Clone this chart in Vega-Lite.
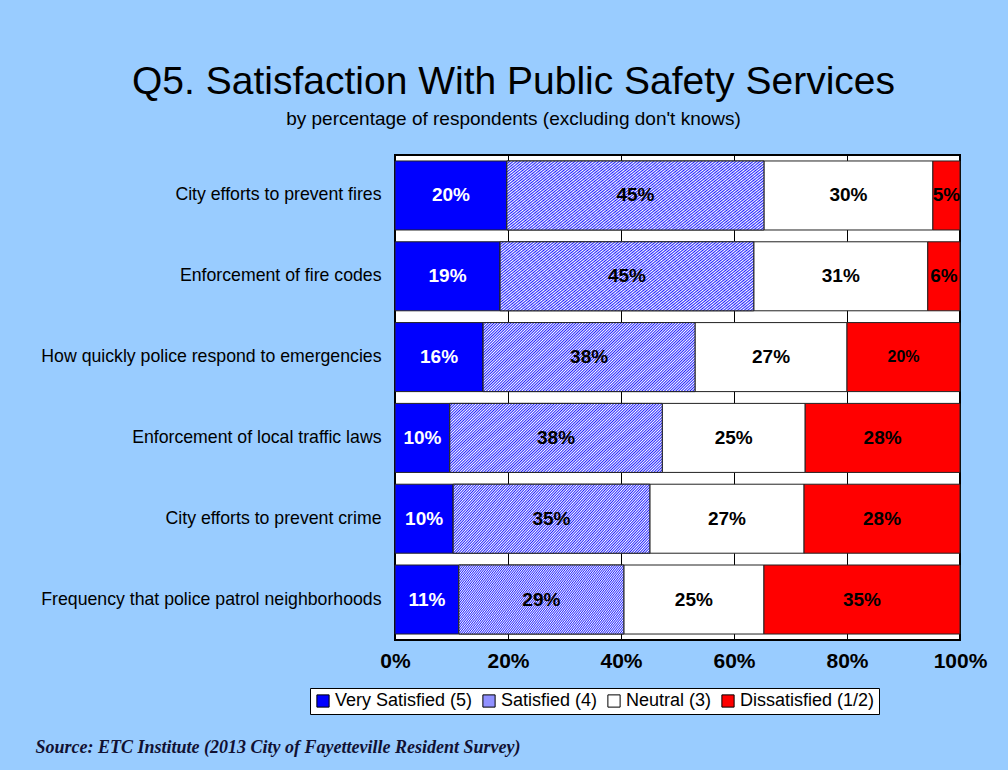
{
  "$schema": "https://vega.github.io/schema/vega-lite/v6.json",
  "autosize": "none",
  "width": 565,
  "height": 485,
  "padding": {"left": 395, "top": 155, "right": 48, "bottom": 130},
  "background": "#99CCFF",
  "title": {
    "text": "Q5. Satisfaction With Public Safety Services",
    "subtitle": "by percentage of respondents (excluding don't knows)",
    "anchor": "middle",
    "frame": "group",
    "dx": -164,
    "offset": 26,
    "font": "Liberation Sans",
    "fontSize": 39,
    "fontWeight": "normal",
    "color": "black",
    "subtitleFont": "Liberation Sans",
    "subtitleFontSize": 19,
    "subtitleColor": "black",
    "subtitlePadding": 8
  },
  "data": {
    "values": [
      {"q": "City efforts to prevent fires", "cat": "Very Satisfied (5)", "v": 19.8, "lbl": "20%"},
      {"q": "City efforts to prevent fires", "cat": "Satisfied (4)", "v": 45.5, "lbl": "45%"},
      {"q": "City efforts to prevent fires", "cat": "Neutral (3)", "v": 29.9, "lbl": "30%"},
      {"q": "City efforts to prevent fires", "cat": "Dissatisfied (1/2)", "v": 4.8, "lbl": "5%"},
      {"q": "Enforcement of fire codes", "cat": "Very Satisfied (5)", "v": 18.6, "lbl": "19%"},
      {"q": "Enforcement of fire codes", "cat": "Satisfied (4)", "v": 44.9, "lbl": "45%"},
      {"q": "Enforcement of fire codes", "cat": "Neutral (3)", "v": 30.8, "lbl": "31%"},
      {"q": "Enforcement of fire codes", "cat": "Dissatisfied (1/2)", "v": 5.7, "lbl": "6%"},
      {"q": "How quickly police respond to emergencies", "cat": "Very Satisfied (5)", "v": 15.6, "lbl": "16%"},
      {"q": "How quickly police respond to emergencies", "cat": "Satisfied (4)", "v": 37.5, "lbl": "38%"},
      {"q": "How quickly police respond to emergencies", "cat": "Neutral (3)", "v": 26.9, "lbl": "27%"},
      {"q": "How quickly police respond to emergencies", "cat": "Dissatisfied (1/2)", "v": 20.0, "lbl": "20%"},
      {"q": "Enforcement of local traffic laws", "cat": "Very Satisfied (5)", "v": 9.7, "lbl": "10%"},
      {"q": "Enforcement of local traffic laws", "cat": "Satisfied (4)", "v": 37.6, "lbl": "38%"},
      {"q": "Enforcement of local traffic laws", "cat": "Neutral (3)", "v": 25.3, "lbl": "25%"},
      {"q": "Enforcement of local traffic laws", "cat": "Dissatisfied (1/2)", "v": 27.4, "lbl": "28%"},
      {"q": "City efforts to prevent crime", "cat": "Very Satisfied (5)", "v": 10.3, "lbl": "10%"},
      {"q": "City efforts to prevent crime", "cat": "Satisfied (4)", "v": 34.8, "lbl": "35%"},
      {"q": "City efforts to prevent crime", "cat": "Neutral (3)", "v": 27.3, "lbl": "27%"},
      {"q": "City efforts to prevent crime", "cat": "Dissatisfied (1/2)", "v": 27.6, "lbl": "28%"},
      {"q": "Frequency that police patrol neighborhoods", "cat": "Very Satisfied (5)", "v": 11.3, "lbl": "11%"},
      {"q": "Frequency that police patrol neighborhoods", "cat": "Satisfied (4)", "v": 29.2, "lbl": "29%"},
      {"q": "Frequency that police patrol neighborhoods", "cat": "Neutral (3)", "v": 24.8, "lbl": "25%"},
      {"q": "Frequency that police patrol neighborhoods", "cat": "Dissatisfied (1/2)", "v": 34.7, "lbl": "35%"}
    ]
  },
  "transform": [
    {"calculate": "indexof(['Very Satisfied (5)','Satisfied (4)','Neutral (3)','Dissatisfied (1/2)'], datum.cat)", "as": "ord"},
    {"stack": "v", "groupby": ["q"], "sort": [{"field": "ord", "order": "ascending"}], "as": ["x0", "x1"]},
    {"calculate": "(datum.x0 + datum.x1) / 2", "as": "mid"}
  ],
  "encoding": {
    "y": {
      "field": "q",
      "type": "nominal",
      "sort": ["City efforts to prevent fires", "Enforcement of fire codes", "How quickly police respond to emergencies", "Enforcement of local traffic laws", "City efforts to prevent crime", "Frequency that police patrol neighborhoods"],
      "scale": {"paddingInner": 0.146, "paddingOuter": 0.074},
      "axis": {"title": null, "domain": false, "ticks": false, "labelFont": "Liberation Sans", "labelFontSize": 17.7, "labelColor": "black", "labelPadding": 14, "labelLimit": 400}
    }
  },
  "layer": [
    {
      "mark": {"type": "bar", "stroke": "#222222", "strokeWidth": 1},
      "encoding": {
        "x": {
          "field": "x0",
          "type": "quantitative",
          "stack": null,
          "title": "Source:  ETC Institute (2013 City of Fayetteville Resident Survey)",
          "scale": {"domain": [0, 100], "nice": false},
          "axis": {"values": [0, 20, 40, 60, 80, 100], "labelExpr": "datum.value + '%'", "labelFlush": false}
        },
        "x2": {"field": "x1"},
        "color": {
          "field": "cat",
          "type": "nominal",
          "scale": {
            "domain": ["Very Satisfied (5)", "Satisfied (4)", "Neutral (3)", "Dissatisfied (1/2)"],
            "range": ["#0000ff", "#9191ff", "#ffffff", "#ff0000"]
          },
          "legend": {
            "orient": "none",
            "legendX": -85,
            "legendY": 533,
            "direction": "horizontal",
            "columns": 4,
            "title": null,
            "fillColor": "white",
            "strokeColor": "black",
            "padding": 4,
            "symbolType": "square",
            "symbolSize": 150,
            "symbolStrokeColor": "black",
            "symbolStrokeWidth": 1,
            "symbolOpacity": 1,
            "labelFont": "Liberation Sans",
            "labelFontSize": 18,
            "labelColor": "black",
            "labelOffset": 3,
            "columnPadding": 7,
            "labelLimit": 300
          }
        }
      }
    },
    {
      "transform": [{"filter": "datum.cat === 'Satisfied (4)'"}],
      "mark": {
        "type": "bar",
        "stroke": "#222222",
        "strokeWidth": 1,
        "fill": {
          "gradient": "linear",
          "x1": 0, "y1": 0, "x2": 1.2, "y2": 0.4,
          "stops": [
            {"offset": 0, "color": "#22f"}, {"offset": 0.005, "color": "#fff"},
            {"offset": 0.01, "color": "#22f"}, {"offset": 0.015, "color": "#fff"},
            {"offset": 0.02, "color": "#22f"}, {"offset": 0.025, "color": "#fff"},
            {"offset": 0.03, "color": "#22f"}, {"offset": 0.035, "color": "#fff"},
            {"offset": 0.04, "color": "#22f"}, {"offset": 0.045, "color": "#fff"},
            {"offset": 0.05, "color": "#22f"}, {"offset": 0.055, "color": "#fff"},
            {"offset": 0.06, "color": "#22f"}, {"offset": 0.065, "color": "#fff"},
            {"offset": 0.07, "color": "#22f"}, {"offset": 0.075, "color": "#fff"},
            {"offset": 0.08, "color": "#22f"}, {"offset": 0.085, "color": "#fff"},
            {"offset": 0.09, "color": "#22f"}, {"offset": 0.095, "color": "#fff"},
            {"offset": 0.1, "color": "#22f"}, {"offset": 0.105, "color": "#fff"},
            {"offset": 0.11, "color": "#22f"}, {"offset": 0.115, "color": "#fff"},
            {"offset": 0.12, "color": "#22f"}, {"offset": 0.125, "color": "#fff"},
            {"offset": 0.13, "color": "#22f"}, {"offset": 0.135, "color": "#fff"},
            {"offset": 0.14, "color": "#22f"}, {"offset": 0.145, "color": "#fff"},
            {"offset": 0.15, "color": "#22f"}, {"offset": 0.155, "color": "#fff"},
            {"offset": 0.16, "color": "#22f"}, {"offset": 0.165, "color": "#fff"},
            {"offset": 0.17, "color": "#22f"}, {"offset": 0.175, "color": "#fff"},
            {"offset": 0.18, "color": "#22f"}, {"offset": 0.185, "color": "#fff"},
            {"offset": 0.19, "color": "#22f"}, {"offset": 0.195, "color": "#fff"},
            {"offset": 0.2, "color": "#22f"}, {"offset": 0.205, "color": "#fff"},
            {"offset": 0.21, "color": "#22f"}, {"offset": 0.215, "color": "#fff"},
            {"offset": 0.22, "color": "#22f"}, {"offset": 0.225, "color": "#fff"},
            {"offset": 0.23, "color": "#22f"}, {"offset": 0.235, "color": "#fff"},
            {"offset": 0.24, "color": "#22f"}, {"offset": 0.245, "color": "#fff"},
            {"offset": 0.25, "color": "#22f"}, {"offset": 0.255, "color": "#fff"},
            {"offset": 0.26, "color": "#22f"}, {"offset": 0.265, "color": "#fff"},
            {"offset": 0.27, "color": "#22f"}, {"offset": 0.275, "color": "#fff"},
            {"offset": 0.28, "color": "#22f"}, {"offset": 0.285, "color": "#fff"},
            {"offset": 0.29, "color": "#22f"}, {"offset": 0.295, "color": "#fff"},
            {"offset": 0.3, "color": "#22f"}, {"offset": 0.305, "color": "#fff"},
            {"offset": 0.31, "color": "#22f"}, {"offset": 0.315, "color": "#fff"},
            {"offset": 0.32, "color": "#22f"}, {"offset": 0.325, "color": "#fff"},
            {"offset": 0.33, "color": "#22f"}, {"offset": 0.335, "color": "#fff"},
            {"offset": 0.34, "color": "#22f"}, {"offset": 0.345, "color": "#fff"},
            {"offset": 0.35, "color": "#22f"}, {"offset": 0.355, "color": "#fff"},
            {"offset": 0.36, "color": "#22f"}, {"offset": 0.365, "color": "#fff"},
            {"offset": 0.37, "color": "#22f"}, {"offset": 0.375, "color": "#fff"},
            {"offset": 0.38, "color": "#22f"}, {"offset": 0.385, "color": "#fff"},
            {"offset": 0.39, "color": "#22f"}, {"offset": 0.395, "color": "#fff"},
            {"offset": 0.4, "color": "#22f"}, {"offset": 0.405, "color": "#fff"},
            {"offset": 0.41, "color": "#22f"}, {"offset": 0.415, "color": "#fff"},
            {"offset": 0.42, "color": "#22f"}, {"offset": 0.425, "color": "#fff"},
            {"offset": 0.43, "color": "#22f"}, {"offset": 0.435, "color": "#fff"},
            {"offset": 0.44, "color": "#22f"}, {"offset": 0.445, "color": "#fff"},
            {"offset": 0.45, "color": "#22f"}, {"offset": 0.455, "color": "#fff"},
            {"offset": 0.46, "color": "#22f"}, {"offset": 0.465, "color": "#fff"},
            {"offset": 0.47, "color": "#22f"}, {"offset": 0.475, "color": "#fff"},
            {"offset": 0.48, "color": "#22f"}, {"offset": 0.485, "color": "#fff"},
            {"offset": 0.49, "color": "#22f"}, {"offset": 0.495, "color": "#fff"},
            {"offset": 0.5, "color": "#22f"}, {"offset": 0.505, "color": "#fff"},
            {"offset": 0.51, "color": "#22f"}, {"offset": 0.515, "color": "#fff"},
            {"offset": 0.52, "color": "#22f"}, {"offset": 0.525, "color": "#fff"},
            {"offset": 0.53, "color": "#22f"}, {"offset": 0.535, "color": "#fff"},
            {"offset": 0.54, "color": "#22f"}, {"offset": 0.545, "color": "#fff"},
            {"offset": 0.55, "color": "#22f"}, {"offset": 0.555, "color": "#fff"},
            {"offset": 0.56, "color": "#22f"}, {"offset": 0.565, "color": "#fff"},
            {"offset": 0.57, "color": "#22f"}, {"offset": 0.575, "color": "#fff"},
            {"offset": 0.58, "color": "#22f"}, {"offset": 0.585, "color": "#fff"},
            {"offset": 0.59, "color": "#22f"}, {"offset": 0.595, "color": "#fff"},
            {"offset": 0.6, "color": "#22f"}, {"offset": 0.605, "color": "#fff"},
            {"offset": 0.61, "color": "#22f"}, {"offset": 0.615, "color": "#fff"},
            {"offset": 0.62, "color": "#22f"}, {"offset": 0.625, "color": "#fff"},
            {"offset": 0.63, "color": "#22f"}, {"offset": 0.635, "color": "#fff"},
            {"offset": 0.64, "color": "#22f"}, {"offset": 0.645, "color": "#fff"},
            {"offset": 0.65, "color": "#22f"}, {"offset": 0.655, "color": "#fff"},
            {"offset": 0.66, "color": "#22f"}, {"offset": 0.665, "color": "#fff"},
            {"offset": 0.67, "color": "#22f"}, {"offset": 0.675, "color": "#fff"},
            {"offset": 0.68, "color": "#22f"}, {"offset": 0.685, "color": "#fff"},
            {"offset": 0.69, "color": "#22f"}, {"offset": 0.695, "color": "#fff"},
            {"offset": 0.7, "color": "#22f"}, {"offset": 0.705, "color": "#fff"},
            {"offset": 0.71, "color": "#22f"}, {"offset": 0.715, "color": "#fff"},
            {"offset": 0.72, "color": "#22f"}, {"offset": 0.725, "color": "#fff"},
            {"offset": 0.73, "color": "#22f"}, {"offset": 0.735, "color": "#fff"},
            {"offset": 0.74, "color": "#22f"}, {"offset": 0.745, "color": "#fff"},
            {"offset": 0.75, "color": "#22f"}, {"offset": 0.755, "color": "#fff"},
            {"offset": 0.76, "color": "#22f"}, {"offset": 0.765, "color": "#fff"},
            {"offset": 0.77, "color": "#22f"}, {"offset": 0.775, "color": "#fff"},
            {"offset": 0.78, "color": "#22f"}, {"offset": 0.785, "color": "#fff"},
            {"offset": 0.79, "color": "#22f"}, {"offset": 0.795, "color": "#fff"},
            {"offset": 0.8, "color": "#22f"}, {"offset": 0.805, "color": "#fff"},
            {"offset": 0.81, "color": "#22f"}, {"offset": 0.815, "color": "#fff"},
            {"offset": 0.82, "color": "#22f"}, {"offset": 0.825, "color": "#fff"},
            {"offset": 0.83, "color": "#22f"}, {"offset": 0.835, "color": "#fff"},
            {"offset": 0.84, "color": "#22f"}, {"offset": 0.845, "color": "#fff"},
            {"offset": 0.85, "color": "#22f"}, {"offset": 0.855, "color": "#fff"},
            {"offset": 0.86, "color": "#22f"}, {"offset": 0.865, "color": "#fff"},
            {"offset": 0.87, "color": "#22f"}, {"offset": 0.875, "color": "#fff"},
            {"offset": 0.88, "color": "#22f"}, {"offset": 0.885, "color": "#fff"},
            {"offset": 0.89, "color": "#22f"}, {"offset": 0.895, "color": "#fff"},
            {"offset": 0.9, "color": "#22f"}, {"offset": 0.905, "color": "#fff"},
            {"offset": 0.91, "color": "#22f"}, {"offset": 0.915, "color": "#fff"},
            {"offset": 0.92, "color": "#22f"}, {"offset": 0.925, "color": "#fff"},
            {"offset": 0.93, "color": "#22f"}, {"offset": 0.935, "color": "#fff"},
            {"offset": 0.94, "color": "#22f"}, {"offset": 0.945, "color": "#fff"},
            {"offset": 0.95, "color": "#22f"}, {"offset": 0.955, "color": "#fff"},
            {"offset": 0.96, "color": "#22f"}, {"offset": 0.965, "color": "#fff"},
            {"offset": 0.97, "color": "#22f"}, {"offset": 0.975, "color": "#fff"},
            {"offset": 0.98, "color": "#22f"}, {"offset": 0.985, "color": "#fff"},
            {"offset": 0.99, "color": "#22f"}, {"offset": 0.995, "color": "#fff"},
            {"offset": 1, "color": "#22f"}
          ]
        }
      },
      "encoding": {
        "x": {"field": "x0", "type": "quantitative", "stack": null, "title": "Source:  ETC Institute (2013 City of Fayetteville Resident Survey)"},
        "x2": {"field": "x1"}
      }
    },
    {
      "mark": {"type": "text", "font": "Liberation Sans", "fontWeight": "bold"},
      "encoding": {
        "x": {"field": "mid", "type": "quantitative", "stack": null, "title": "Source:  ETC Institute (2013 City of Fayetteville Resident Survey)"},
        "text": {"field": "lbl"},
        "color": {"condition": {"test": "datum.cat === 'Very Satisfied (5)'", "value": "white"}, "value": "black"},
        "size": {"condition": {"test": "datum.cat === 'Dissatisfied (1/2)' && datum.lbl === '20%'", "value": 16}, "value": 19}
      }
    }
  ],
  "config": {
    "view": {"fill": "white", "stroke": "black", "strokeWidth": 2},
    "axisX": {
      "grid": true,
      "gridColor": "#000000",
      "gridWidth": 1,
      "gridOpacity": 1,
      "domain": false,
      "ticks": false,
      "labelFont": "Liberation Sans",
      "labelFontSize": 21,
      "labelFontWeight": "bold",
      "labelColor": "black",
      "labelPadding": 10,
      "titleFont": "Liberation Serif",
      "titleFontSize": 18,
      "titleFontStyle": "italic",
      "titleFontWeight": "bold",
      "titleColor": "#111133",
      "titleX": -360,
      "titleY": 112,
      "titleAlign": "left",
      "titleAnchor": "start",
      "titleBaseline": "alphabetic"
    }
  }
}
